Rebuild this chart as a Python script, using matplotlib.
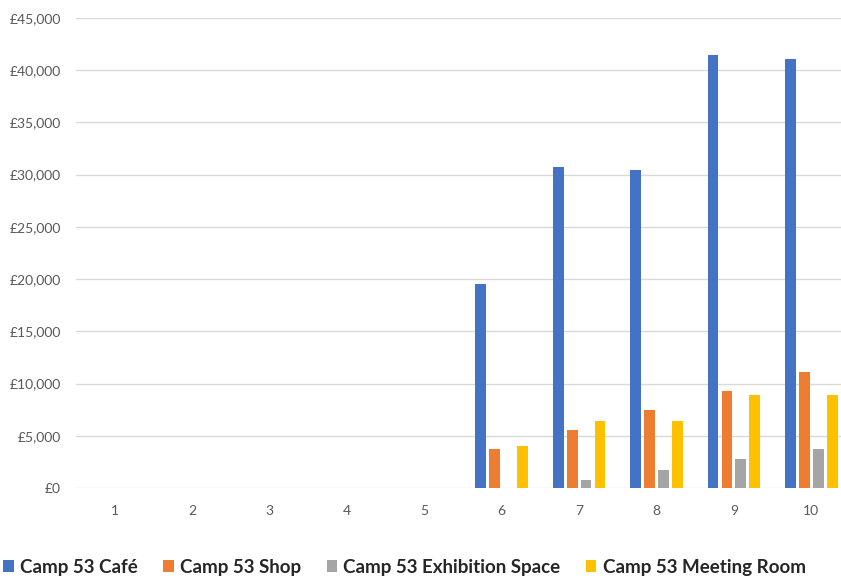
import numpy as np
import matplotlib.pyplot as plt
from matplotlib.ticker import FuncFormatter

periods = [1, 2, 3, 4, 5, 6, 7, 8, 9, 10]
cafe = [0, 0, 0, 0, 0, 19500, 30700, 30450, 41500, 41100]
shop = [0, 0, 0, 0, 0, 3700, 5550, 7450, 9300, 11150]
exhibition = [0, 0, 0, 0, 0, 0, 800, 1720, 2750, 3780]
meeting = [0, 0, 0, 0, 0, 4000, 6450, 6450, 8900, 8900]

series = [
    ("Camp 53 Café", cafe, "#4472C4"),
    ("Camp 53 Shop", shop, "#ED7D31"),
    ("Camp 53 Exhibition Space", exhibition, "#A5A5A5"),
    ("Camp 53 Meeting Room", meeting, "#FFC000"),
]

plt.rcParams['font.family'] = ['Lato', 'DejaVu Sans']

fig = plt.figure(figsize=(8.41, 5.78), dpi=100)
ax = fig.add_axes([0.0904, 0.1557, 0.9203, 0.8132])

x = np.arange(len(periods))
slot = 0.18
width = 0.14
for i, (name, vals, col) in enumerate(series):
    ax.bar(x + (i - 1.5) * slot, vals, width=width, color=col, label=name, zorder=3)

ax.set_xlim(-0.5, len(periods) - 0.5)
ax.set_ylim(0, 45000)
ax.set_yticks(range(0, 45001, 5000))
ax.yaxis.set_major_formatter(FuncFormatter(lambda v, p: "£{:,.0f}".format(v)))
ax.set_xticks(x)
ax.set_xticklabels([str(p) for p in periods])
ax.grid(axis='y', color='#D9D9D9', linewidth=1, zorder=0)
for s in ax.spines.values():
    s.set_visible(False)
ax.tick_params(axis='both', length=0, labelsize=10, colors='#595959')
ax.tick_params(axis='y', pad=11)
ax.tick_params(axis='x', pad=12)

fig.legend(loc='center', bbox_to_anchor=(0.481, 0.019), ncol=4, frameon=False,
           prop={'weight': 'bold', 'size': 13.5}, handlelength=0.55, handleheight=0.55,
           handletextpad=0.35, columnspacing=1.35, labelcolor='#262626')

fig.savefig("out.png", dpi=100)
